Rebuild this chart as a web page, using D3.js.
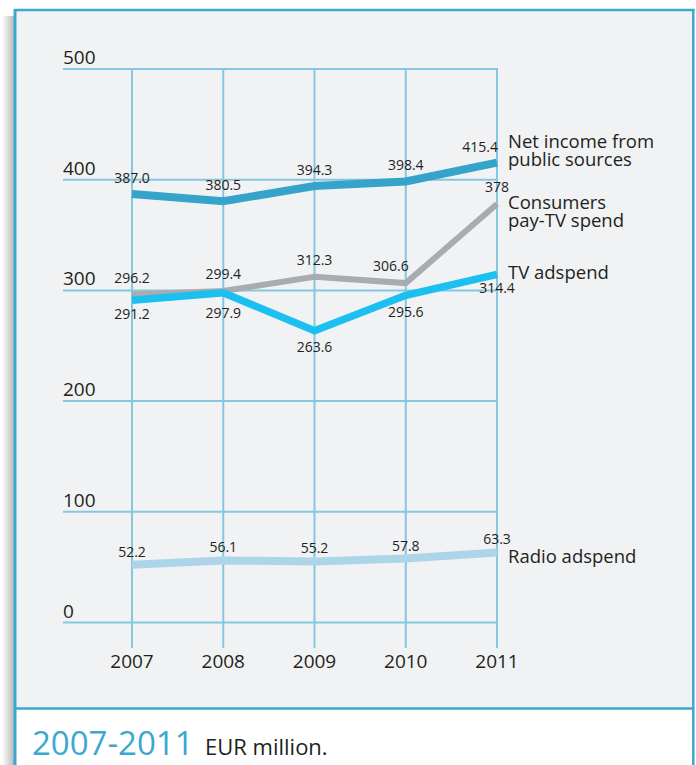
<!DOCTYPE html>
<html><head><meta charset="utf-8">
<script src="https://cdn.jsdelivr.net/npm/d3@7"></script>
<style>html,body{margin:0;padding:0;background:#fff;}svg{display:block;font-family:"Open Sans",sans-serif;}</style>
</head><body>
<script>
// ---- data ----
const years = ["2007","2008","2009","2010","2011"];
const yTicks = [0,100,200,300,400,500];
const netIncome = [387.0, 380.5, 394.3, 398.4, 415.4];
const payTV = [296.2, 299.4, 312.3, 306.6, 378];
const tvAdspend = [291.2, 297.9, 263.6, 295.6, 314.4];
const radioAdspend = [52.2, 56.1, 55.2, 57.8, 63.3];
const netLabels = ["387.0","380.5","394.3","398.4","415.4"];
const payLabels = ["296.2","299.4","312.3","306.6","378"];
const tvLabels = ["291.2","297.9","263.6","295.6","314.4"];
const radioLabels = ["52.2","56.1","55.2","57.8","63.3"];
const seriesNames = [["Net income from","public sources"],["Consumers","pay-TV spend"],["TV adspend"],["Radio adspend"]];
const captionYears = "2007-2011";
const captionUnit = "EUR million.";

// ---- styles ----
const W=696,H=765;
const blue="#3aa8cf", grid="#86c6df", bg="#f1f2f4", ink="#231f20";
const series=[
  {vals:netIncome, labs:netLabels, name:seriesNames[0], color:"#36a4ca", w:8, dy:-11, anchors:["middle","middle","middle","middle","end"], nameDy:[-15,3]},
  {vals:payTV, labs:payLabels, name:seriesNames[1], color:"#a9abae", w:6, dy:-12, anchors:["middle","middle","middle","end","middle"], nameDy:[5,23], ax:[0,0,0,2,0]},
  {vals:tvAdspend, labs:tvLabels, name:seriesNames[2], color:"#1cc0f0", w:7.5, dy:21, anchors:["middle","middle","middle","middle","middle"], nameDy:[5], dys:[19,25,21,22,19]},
  {vals:radioAdspend, labs:radioLabels, name:seriesNames[3], color:"#acd5e9", w:8, dy:-8, anchors:["middle","middle","middle","middle","middle"], nameDy:[11]}
];

const svg=d3.select("body").append("svg").attr("width",W).attr("height",H);

// frame
const defs=svg.append("defs");
const lg=defs.append("linearGradient").attr("id","sh").attr("x1",0).attr("x2",1).attr("y1",0).attr("y2",0);
lg.append("stop").attr("offset","0%").attr("stop-color","#fff");
lg.append("stop").attr("offset","100%").attr("stop-color","#b9babc");
svg.append("rect").attr("x",2).attr("y",16).attr("width",12).attr("height",H-16).attr("fill","url(#sh)");
svg.append("rect").attr("x",15).attr("y",10).attr("width",678).attr("height",698).attr("fill",bg);
svg.append("rect").attr("x",15).attr("y",708).attr("width",678).attr("height",H-708).attr("fill","#fff");
svg.append("line").attr("x1",14).attr("x2",694.5).attr("y1",10).attr("y2",10).attr("stroke",blue).attr("stroke-width",2.5);
svg.append("line").attr("x1",15).attr("x2",15).attr("y1",9).attr("y2",H).attr("stroke",blue).attr("stroke-width",3);
svg.append("line").attr("x1",693.3).attr("x2",693.3).attr("y1",9).attr("y2",H).attr("stroke",blue).attr("stroke-width",2.5);
svg.append("line").attr("x1",15).attr("x2",693).attr("y1",708.5).attr("y2",708.5).attr("stroke",blue).attr("stroke-width",2.5);

// scales
const x=d3.scalePoint().domain(years).range([132,497]);
const y=d3.scaleLinear().domain([0,500]).range([622.5,69]);

// grid
const g=svg.append("g");
g.selectAll("line.h").data(yTicks).join("line").attr("class","h")
  .attr("x1",63).attr("x2",x("2011")+1).attr("y1",d=>y(d)).attr("y2",d=>y(d))
  .attr("stroke",grid).attr("stroke-width",2);
g.selectAll("line.v").data(years).join("line").attr("class","v")
  .attr("x1",d=>x(d)).attr("x2",d=>x(d)).attr("y1",y(500)).attr("y2",648)
  .attr("stroke",grid).attr("stroke-width",2);
g.selectAll("text.yt").data(yTicks).join("text").attr("class","yt")
  .attr("x",63).attr("y",d=>y(d)-5).attr("font-size",19).attr("fill",ink).text(d=>d);
g.selectAll("text.xt").data(years).join("text").attr("class","xt")
  .attr("x",d=>x(d)).attr("y",668).attr("text-anchor","middle").attr("font-size",19).attr("fill",ink).text(d=>d);

// lines
const line=d3.line().x((d,i)=>x(years[i])).y(d=>y(d));
series.forEach(s=>{
  svg.append("path").datum(s.vals).attr("d",line).attr("fill","none")
    .attr("stroke",s.color).attr("stroke-width",s.w).attr("stroke-linejoin","miter").attr("stroke-linecap","butt");
});
series.forEach(s=>{
  svg.append("g").selectAll("text").data(s.vals).join("text")
    .attr("x",(d,i)=>x(years[i])+(s.ax?s.ax[i]:0)+(s.anchors[i]==="end"?1:0))
    .attr("y",(d,i)=>y(d)+(s.dys?s.dys[i]:s.dy))
    .attr("text-anchor",(d,i)=>s.anchors[i]).attr("font-size",14).attr("fill",ink)
    .text((d,i)=>s.labs[i]);
  const last=s.vals[s.vals.length-1];
  svg.append("g").selectAll("text").data(s.name).join("text")
    .attr("x",508).attr("y",(d,i)=>y(last)+s.nameDy[i])
    .attr("font-size",18.5).attr("fill",ink).text(d=>d);
});

// caption
const cap=svg.append("text").attr("x",32).attr("y",755);
cap.append("tspan").attr("font-size",33).attr("fill",blue).text(captionYears);
cap.append("tspan").attr("x",205).attr("font-size",22).attr("fill",ink).text(captionUnit);
</script>
</body></html>
